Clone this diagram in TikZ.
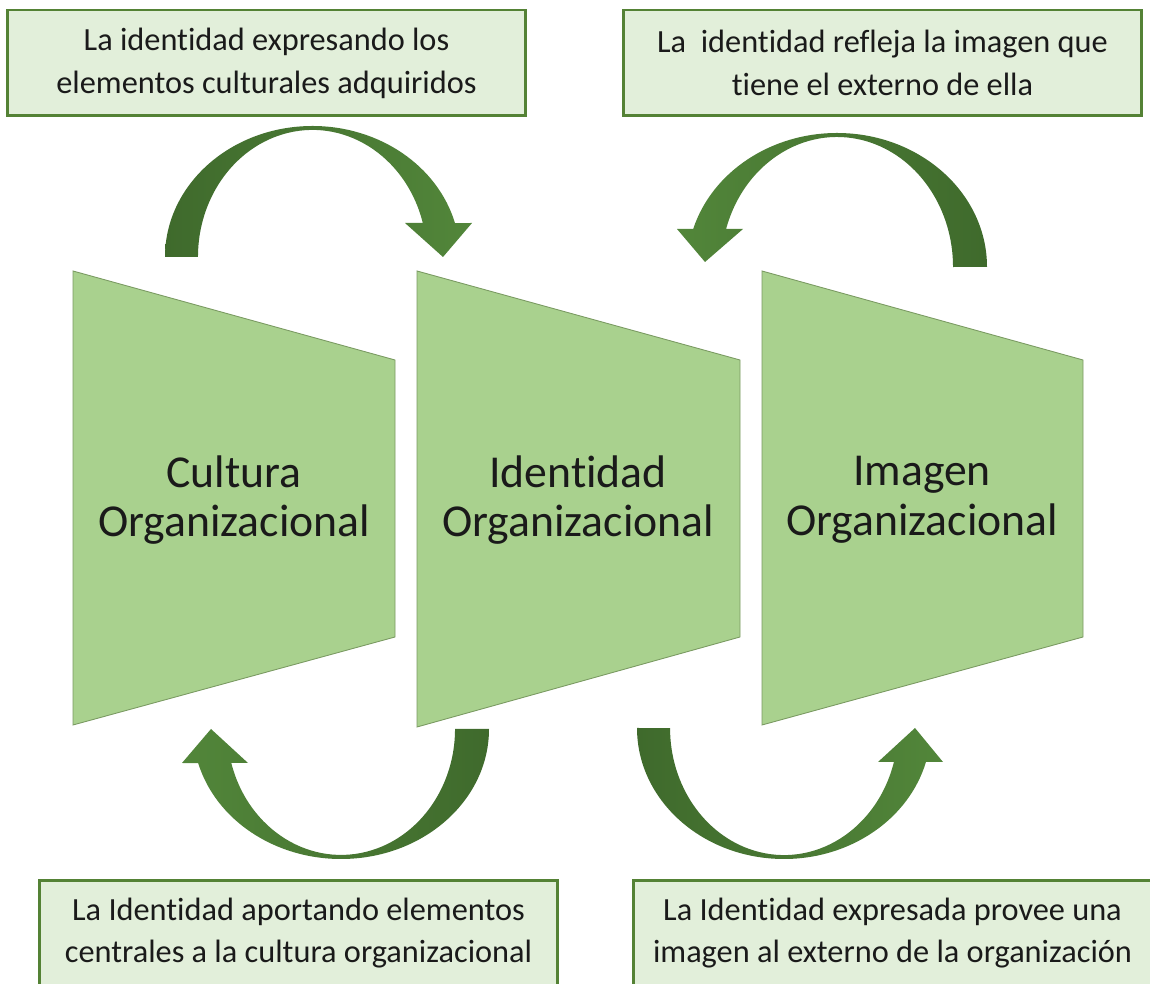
\documentclass[tikz,border=0pt]{standalone}
\usepackage{fontspec}
\setmainfont{Carlito}[Ligatures=NoCommon]
\usepackage{xcolor}
\usetikzlibrary{positioning, calc}
\definecolor{bordeverde}{HTML}{548235}
\definecolor{fondonota}{HTML}{E2EFDA}
\definecolor{verdeclaro}{HTML}{A9D18E}
\definecolor{lineatrap}{HTML}{7A9A62}
\definecolor{flechaclara}{HTML}{52863A}
\definecolor{flechaoscura}{HTML}{3F6A2C}
\definecolor{tinta}{HTML}{1A1A1A}

\begin{document}
\begin{tikzpicture}[x=0.02cm, y=0.02cm,
    caja/.style={draw=bordeverde, line width=1.7pt, fill=fondonota, text=tinta,
        minimum width=10.38cm, minimum height=2.12cm, inner sep=0pt,
        align=center, font=\fontsize{18.4}{24.4}\selectfont},
    bloque/.style={draw=lineatrap, line width=0.5pt, fill=verdeclaro},
    rotulo/.style={align=center, text=tinta, font=\fontsize{26}{28.3}\selectfont},
    flecha/.style={draw=none}]
        \useasboundingbox (0,0) rectangle (1150,984);

        \draw[bloque] (73,713) -- (395,624) -- (395,347) -- (73,259) -- cycle;
        \draw[bloque] (417,713) -- (740,624) -- (740,347) -- (417,257) -- cycle;
        \draw[bloque] (762,713) -- (1083,624) -- (1083,347) -- (762,259) -- cycle;

        \node[rotulo] (cultura) at (234,484) {Cultura\\Organizacional};
        \node[rotulo] (identidad) at (578,484) {Identidad\\Organizacional};
        \node[rotulo] (imagen) at (922,484) {Imagen\\Organizacional};

        \node[caja] (notaA) at (266.5,921) {La identidad expresando los\\elementos culturales adquiridos};
        \node[caja] (notaB) at (882.5,921) {La\ \ identidad refleja la imagen que\\tiene el externo de ella};
        \node[caja] (notaC) at (298.5,51) {La Identidad aportando elementos\\centrales a la cultura organizacional};
        \node[caja] (notaD) at (892.5,51) {La Identidad expresada provee una\\imagen al externo de la organización};

        \path[flecha, left color=flechaoscura, right color=flechaclara]
            (165,727) arc[start angle=180, end angle=15, x radius=147.5, y radius=131]
            -- (472,761) -- (443,727) -- (405,761) -- (422.8,761)
            arc[start angle=15.5, end angle=180, x radius=114.5, y radius=127] -- cycle;
        \path[flecha, left color=flechaclara, right color=flechaoscura]
            (987,717) arc[start angle=0, end angle=163.5, x radius=150, y radius=134]
            -- (677,755) -- (705,722) -- (743,755) -- (726.1,755)
            arc[start angle=163, end angle=0, x radius=116, y radius=130] -- cycle;
        \path[flecha, left color=flechaclara, right color=flechaoscura]
            (489,255) arc[start angle=0, end angle=-164.8, x radius=148, y radius=130]
            -- (182,221) -- (211,255) -- (248,221) -- (231.3,221)
            arc[start angle=-164.3, end angle=0, x radius=114, y radius=126] -- cycle;
        \path[flecha, left color=flechaoscura, right color=flechaclara]
            (637,256) arc[start angle=180, end angle=345, x radius=147, y radius=131]
            -- (943,222) -- (915,256) -- (878,222) -- (893.9,222)
            arc[start angle=344.5, end angle=180, x radius=114, y radius=127] -- cycle;
\end{tikzpicture}
\end{document}
